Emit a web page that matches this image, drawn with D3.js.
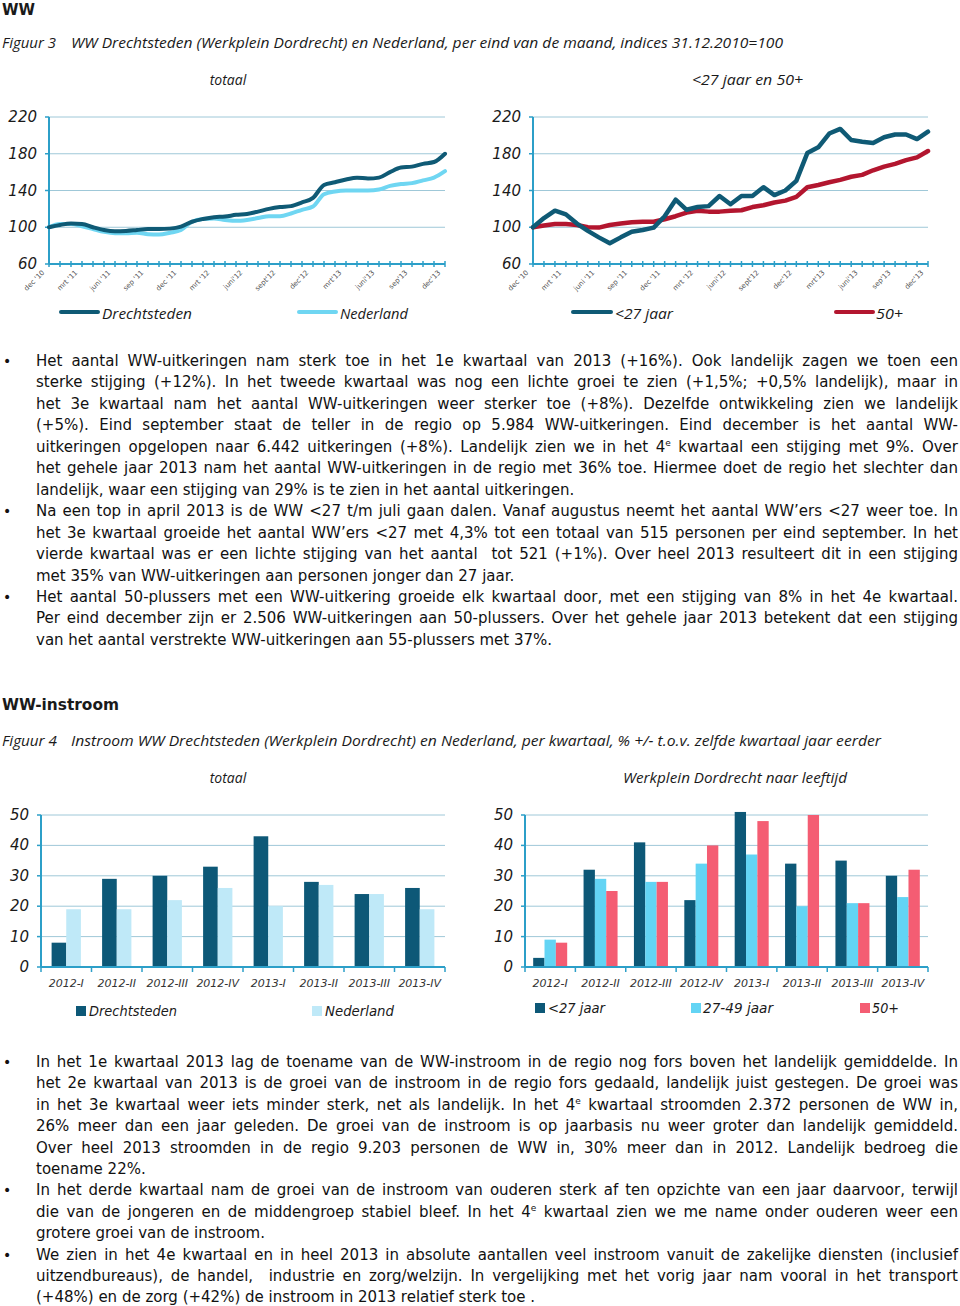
<!DOCTYPE html>
<html>
<head>
<meta charset="utf-8">
<script src="https://cdn.jsdelivr.net/npm/d3@7"></script>
<style>
  html, body { margin: 0; padding: 0; background: #fff; }
  #page { position: relative; width: 960px; height: 1306px; overflow: hidden; background: #fff; }
  svg { position: absolute; left: 0; top: 0; }
  .line { position: absolute; left: 36px; width: 922px; height: 22px; line-height: 22px;
          font-family: "DejaVu Sans", Verdana, sans-serif; font-size: 15px; color: #111;
          white-space: nowrap; text-align: justify; text-align-last: justify; }
  .line.last { text-align-last: left; }
  .line sup { font-size: 9px; line-height: 0; vertical-align: 6px; }
  .bullet { position: absolute; left: 3px; font-family: "DejaVu Sans", sans-serif; font-size: 14px; line-height: 22px; height: 22px; color: #111; }
</style>
</head>
<body>
<div id="page"></div>
<script>
// ---------------- DATA ----------------
const monthTickLabels = ["dec '10","mrt '11","juni '11","sep '11","dec '11","mrt '12","juni'12","sept'12","dec'12","mrt'13","juni'13","sep'13","dec'13"];

const drechtsteden = [100,102.5,104,103.6,100,97,95.6,96,97,98,98,98.5,100.7,106,109,111,111.6,113.5,114.5,117,120,122,123,127,132,146,149,152,154,153,154,160,165,166,169,171,180];
const nederland    = [100,103.6,103.6,101,98,95,93.5,93.5,94,92.5,92,94,97,106,109,109.5,108,107,108,110,112,112,115,119,122.5,136,139,140,140,140,141,145,147,148,151,154,161];
const jonger27     = [100,110,118,114,104,96,89,82.5,89,95,97,99.6,112,130,119,122,123,134,125,134,134,143.6,135,140,150.5,180.7,187,202,207,195,193,191.6,198,201,201,196,204];
const plus50       = [100,102,103.6,103.6,102.5,100,99.6,102.5,104,105.5,106,106,108.7,112,116,118,117,117,118,118.5,122,124,127,129,133,143.6,146,149,151.6,155,157,162,166,169,173,176,183];

const quarters = ["2012-I","2012-II","2012-III","2012-IV","2013-I","2013-II","2013-III","2013-IV"];
const instroomDrecht = [8,29,30,33,43,28,24,26];
const instroomNL     = [19,19,22,26,20,27,24,19];
const instroomJong   = [3,32,41,22,51,34,35,30];
const instroomMidden = [9,29,28,34,37,20,21,23];
const instroomOud    = [8,25,28,40,48,50,21,32];

const lineTicks = [60,100,140,180,220];
const barTicks = [0,10,20,30,40,50];

// ---------------- SETUP ----------------
const page = d3.select("#page");
const svg = page.append("svg").attr("width",960).attr("height",1306);

const C = {
  grid: "#9fc8d8", axis: "#2c9fc8", dark: "#0f5a75", light: "#6fd6f2", red: "#b3162f",
  barDark: "#0d5877", barPale: "#bfe9f8", barCyan: "#63d4f4", barPink: "#f45d73", text: "#1a1a1a"
};
const italicFont = "'Open Sans', 'Noto Sans', sans-serif";
const axisFont = "'DejaVu Sans', Verdana, sans-serif";

function itext(x, y, str, opts = {}) {
  const t = svg.append("text")
    .attr("x", x).attr("y", y)
    .attr("dominant-baseline", "central")
    .attr("font-family", opts.family || italicFont)
    .attr("font-style", opts.style || "italic")
    .attr("font-weight", opts.weight || "normal")
    .attr("font-size", opts.size || 14)
    .attr("fill", opts.fill || C.text)
    .attr("text-anchor", opts.anchor || "start")
    .text(str);
  if (opts.len) t.attr("textLength", opts.len).attr("lengthAdjust", "spacingAndGlyphs");
  return t;
}

// ---------------- HEADINGS ----------------
itext(2, 10, "WW", {family: axisFont, style: "normal", weight: "bold", size: 15, len: 33});
itext(2, 42, "Figuur 3", {len: 54});
itext(71, 42, "WW Drechtsteden (Werkplein Dordrecht) en Nederland, per eind van de maand, indices 31.12.2010=100", {len: 712});
itext(228, 79, "totaal", {anchor: "middle"});
itext(692, 79, "<27 jaar en 50+", {len: 111});

itext(2, 704, "WW-instroom", {family: axisFont, style: "normal", weight: "bold", size: 16, len: 117});
itext(2, 740, "Figuur 4", {len: 55});
itext(71, 740, "Instroom WW Drechtsteden (Werkplein Dordrecht) en Nederland, per kwartaal, % +/- t.o.v. zelfde kwartaal jaar eerder", {len: 810});
itext(228, 777, "totaal", {anchor: "middle"});
itext(623, 777, "Werkplein Dordrecht naar leeftijd", {len: 224});

// ---------------- LINE CHARTS ----------------
function lineChart(x0, x1, labelRight, series, curve) {
  const g = svg.append("g");
  const x = d3.scaleLinear().domain([0, drechtsteden.length - 1]).range([x0, x1]);
  const y = d3.scaleLinear().domain([60, 220]).range([264, 117]);
  g.selectAll(".gl").data(lineTicks.slice(1)).join("line")
    .attr("x1", x0).attr("x2", x1).attr("y1", d => y(d)).attr("y2", d => y(d))
    .attr("stroke", C.grid).attr("stroke-width", 1);
  g.selectAll(".yl").data(lineTicks).join("text")
    .attr("x", labelRight).attr("y", d => y(d)).attr("dominant-baseline", "central")
    .attr("text-anchor", "end").attr("font-family", axisFont).attr("font-style", "italic")
    .attr("font-size", 15).attr("fill", C.text).text(d => d);
  g.selectAll(".yt").data(lineTicks).join("line")
    .attr("x1", x0 - 4).attr("x2", x0).attr("y1", d => y(d)).attr("y2", d => y(d))
    .attr("stroke", C.axis).attr("stroke-width", 1.5);
  g.append("line").attr("x1", x0).attr("x2", x0).attr("y1", y(220)).attr("y2", y(60))
    .attr("stroke", C.axis).attr("stroke-width", 2);
  g.append("line").attr("x1", x0).attr("x2", x1).attr("y1", y(60)).attr("y2", y(60))
    .attr("stroke", C.axis).attr("stroke-width", 2);
  g.selectAll(".xt").data(d3.range(drechtsteden.length)).join("line")
    .attr("x1", d => x(d)).attr("x2", d => x(d)).attr("y1", y(60) - 3).attr("y2", y(60) + 3)
    .attr("stroke", C.axis).attr("stroke-width", 1.5);
  g.selectAll(".xl").data(monthTickLabels).join("text")
    .attr("transform", (d, i) => `translate(${x(i * 3) - 4},${y(60) + 9}) rotate(-45)`)
    .attr("text-anchor", "end").attr("font-family", axisFont).attr("font-size", 7)
    .attr("fill", "#555").text(d => d);
  series.forEach(s => {
    const line = d3.line().x((d, i) => x(i)).y(d => y(d)).curve(curve);
    g.append("path").datum(s.values).attr("d", line).attr("fill", "none")
      .attr("stroke", s.color).attr("stroke-width", s.width)
      .attr("stroke-linejoin", "round").attr("stroke-linecap", "round");
  });
}

lineChart(49, 445, 37, [
  {values: nederland, color: C.light, width: 4},
  {values: drechtsteden, color: C.dark, width: 4}
], d3.curveMonotoneX);

lineChart(533, 928, 521, [
  {values: plus50, color: C.red, width: 4.5},
  {values: jonger27, color: C.dark, width: 4.5}
], d3.curveLinear);

function lineLegend(xa, xb, tx, label, color, len) {
  svg.append("line").attr("x1", xa).attr("x2", xb).attr("y1", 312).attr("y2", 312)
    .attr("stroke", color).attr("stroke-width", 4).attr("stroke-linecap", "round");
  itext(tx, 313, label, {len: len});
}
lineLegend(61, 98, 102, "Drechtsteden", C.dark, 90);
lineLegend(299, 336, 340, "Nederland", C.light, 68);
lineLegend(573, 611, 615, "<27 jaar", C.dark, 58);
lineLegend(836, 873, 876, "50+", C.red, 27);

// ---------------- BAR CHARTS ----------------
function barChart(x0, x1, labelRight, series, innerFrac) {
  const g = svg.append("g");
  const x = d3.scaleBand().domain(quarters).range([x0, x1]).padding(0);
  const step = x.bandwidth();
  const xs = d3.scaleBand().domain(series.map(s => s.key))
    .range([step * (1 - innerFrac) / 2, step * (1 + innerFrac) / 2]).padding(0);
  const y = d3.scaleLinear().domain([0, 50]).range([967, 815]);
  g.selectAll(".gl").data(barTicks.slice(1)).join("line")
    .attr("x1", x0).attr("x2", x1).attr("y1", d => y(d)).attr("y2", d => y(d))
    .attr("stroke", C.grid).attr("stroke-width", 1);
  g.selectAll(".yl").data(barTicks).join("text")
    .attr("x", labelRight).attr("y", d => y(d)).attr("dominant-baseline", "central")
    .attr("text-anchor", "end").attr("font-family", axisFont).attr("font-style", "italic")
    .attr("font-size", 15).attr("fill", C.text).text(d => d);
  g.selectAll(".yt").data(barTicks).join("line")
    .attr("x1", x0 - 4).attr("x2", x0).attr("y1", d => y(d)).attr("y2", d => y(d))
    .attr("stroke", C.axis).attr("stroke-width", 1.5);
  series.forEach(s => {
    g.selectAll(null).data(s.values).join("rect")
      .attr("x", (d, i) => x(quarters[i]) + xs(s.key))
      .attr("width", xs.bandwidth())
      .attr("y", d => y(d)).attr("height", d => y(0) - y(d))
      .attr("fill", s.color);
  });
  g.append("line").attr("x1", x0).attr("x2", x0).attr("y1", y(50)).attr("y2", y(0))
    .attr("stroke", C.axis).attr("stroke-width", 2);
  g.append("line").attr("x1", x0).attr("x2", x1).attr("y1", y(0)).attr("y2", y(0))
    .attr("stroke", C.axis).attr("stroke-width", 2);
  g.selectAll(".xt").data(d3.range(quarters.length + 1)).join("line")
    .attr("x1", d => x0 + d * step).attr("x2", d => x0 + d * step)
    .attr("y1", y(0)).attr("y2", y(0) + 5)
    .attr("stroke", C.axis).attr("stroke-width", 1.5);
  g.selectAll(".xl").data(quarters).join("text")
    .attr("x", d => x(d) + step / 2).attr("y", 983).attr("dominant-baseline", "central")
    .attr("text-anchor", "middle").attr("font-family", axisFont).attr("font-style", "italic")
    .attr("font-size", 11).attr("fill", "#333").text(d => d);
}

barChart(41, 445, 29, [
  {key: "Drechtsteden", values: instroomDrecht, color: C.barDark},
  {key: "Nederland", values: instroomNL, color: C.barPale}
], 0.58);

barChart(525, 928, 513, [
  {key: "<27 jaar", values: instroomJong, color: C.barDark},
  {key: "27-49 jaar", values: instroomMidden, color: C.barCyan},
  {key: "50+", values: instroomOud, color: C.barPink}
], 0.675);

function barLegend(sx, cy, tx, label, color, len) {
  svg.append("rect").attr("x", sx).attr("y", cy - 5).attr("width", 10).attr("height", 10).attr("fill", color);
  itext(tx, cy, label, {family: axisFont, size: 14, len: len});
}
barLegend(76, 1011, 89, "Drechtsteden", C.barDark, 88);
barLegend(312, 1011, 325, "Nederland", C.barPale, 69);
barLegend(535, 1008, 548, "<27 jaar", C.barDark, 57);
barLegend(691, 1008, 703, "27-49 jaar", C.barCyan, 70);
barLegend(860, 1008, 872, "50+", C.barPink, 27);

// ---------------- BODY TEXT ----------------
const upperParas = [
  ["Het aantal WW-uitkeringen nam sterk toe in het 1e kwartaal van 2013 (+16%). Ook landelijk zagen we toen een",
   "sterke stijging (+12%). In het tweede kwartaal was nog een lichte groei te zien (+1,5%; +0,5% landelijk), maar in",
   "het 3e kwartaal nam het aantal WW-uitkeringen weer sterker toe (+8%). Dezelfde ontwikkeling zien we landelijk",
   "(+5%). Eind september staat de teller in de regio op 5.984 WW-uitkeringen. Eind december is het aantal WW-",
   "uitkeringen opgelopen naar 6.442 uitkeringen (+8%). Landelijk zien we in het 4{e} kwartaal een stijging met 9%. Over",
   "het gehele jaar 2013 nam het aantal WW-uitkeringen in de regio met 36% toe. Hiermee doet de regio het slechter dan",
   "landelijk, waar een stijging van 29% is te zien in het aantal uitkeringen."],
  ["Na een top in april 2013 is de WW <27 t/m juli gaan dalen. Vanaf augustus neemt het aantal WW’ers <27 weer toe. In",
   "het 3e kwartaal groeide het aantal WW’ers <27 met 4,3% tot een totaal van 515 personen per eind september. In het",
   "vierde kwartaal was er een lichte stijging van het aantal  tot 521 (+1%). Over heel 2013 resulteert dit in een stijging",
   "met 35% van WW-uitkeringen aan personen jonger dan 27 jaar."],
  ["Het aantal 50-plussers met een WW-uitkering groeide elk kwartaal door, met een stijging van 8% in het 4e kwartaal.",
   "Per eind december zijn er 2.506 WW-uitkeringen aan 50-plussers. Over het gehele jaar 2013 betekent dat een stijging",
   "van het aantal verstrekte WW-uitkeringen aan 55-plussers met 37%."]
];
const lowerParas = [
  ["In het 1e kwartaal 2013 lag de toename van de WW-instroom in de regio nog fors boven het landelijk gemiddelde. In",
   "het 2e kwartaal van 2013 is de groei van de instroom in de regio fors gedaald, landelijk juist gestegen. De groei was",
   "in het 3e kwartaal weer iets minder sterk, net als landelijk. In het 4{e} kwartaal stroomden 2.372 personen de WW in,",
   "26% meer dan een jaar geleden. De groei van de instroom is op jaarbasis nu weer groter dan landelijk gemiddeld.",
   "Over heel 2013 stroomden in de regio 9.203 personen de WW in, 30% meer dan in 2012. Landelijk bedroeg die",
   "toename 22%."],
  ["In het derde kwartaal nam de groei van de instroom van ouderen sterk af ten opzichte van een jaar daarvoor, terwijl",
   "die van de jongeren en de middengroep stabiel bleef. In het 4{e} kwartaal zien we me name onder ouderen weer een",
   "grotere groei van de instroom."],
  ["We zien in het 4e kwartaal en in heel 2013 in absolute aantallen veel instroom vanuit de zakelijke diensten (inclusief",
   "uitzendbureaus), de handel,  industrie en zorg/welzijn. In vergelijking met het vorig jaar nam vooral in het transport",
   "(+48%) en de zorg (+42%) de instroom in 2013 relatief sterk toe ."]
];

function esc(s) { return s.replace(/&/g, "&amp;").replace(/</g, "&lt;").replace(/>/g, "&gt;"); }

function writeParas(paras, startY, step) {
  let k = 0;
  paras.forEach(p => {
    p.forEach((ln, j) => {
      const cy = startY + k * step;
      if (j === 0) {
        page.append("div").attr("class", "bullet").style("top", (cy - 11) + "px").text("•");
      }
      page.append("div")
        .attr("class", "line" + (j === p.length - 1 ? " last" : ""))
        .style("top", (cy - 11) + "px")
        .html(esc(ln).replace("{e}", "<sup>e</sup>").replace(/  /g, " &nbsp;"));
      k++;
    });
  });
}
writeParas(upperParas, 361, 21.45);
writeParas(lowerParas, 1062, 21.4);
</script>
</body>
</html>
